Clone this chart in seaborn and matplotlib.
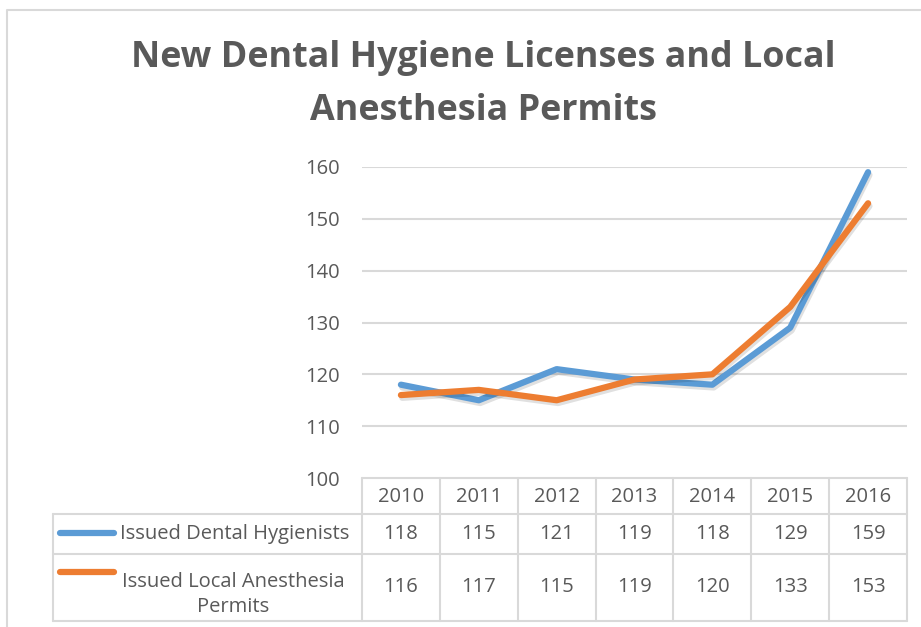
import pandas as pd
import seaborn as sns
import matplotlib.pyplot as plt
import matplotlib.patheffects as pe

# chart data
years = [2010, 2011, 2012, 2013, 2014, 2015, 2016]
hygienists = [118, 115, 121, 119, 118, 129, 159]
anesthesia = [116, 117, 115, 119, 120, 133, 153]
series_names = ['Issued Dental Hygienists', 'Issued Local Anesthesia\nPermits']
series_colors = ['#5B9BD5', '#ED7D31']
y_ticks = [100, 110, 120, 130, 140, 150, 160]

df = pd.DataFrame({
    'year': years * 2,
    'value': hygienists + anesthesia,
    'series': [series_names[0]] * len(years) + [series_names[1]] * len(years),
})

sns.set_style('white')
plt.rcParams['font.family'] = ['Open Sans', 'DejaVu Sans']
text_color = '#595959'
grid_color = '#D9D9D9'

W, H = 921, 627
fig = plt.figure(figsize=(W / 100, H / 100), dpi=100)

# plot area
left, right, top, bottom = 362, 907, 167, 478
ax = fig.add_axes([left / W, 1 - bottom / H, (right - left) / W, (bottom - top) / H])
sns.lineplot(data=df, x='year', y='value', hue='series', palette=series_colors,
             linewidth=4.5, legend=False, ax=ax, solid_capstyle='round',
             solid_joinstyle='round',
             path_effects=[pe.SimpleLineShadow(offset=(1, -2), alpha=0.12), pe.Normal()])
ax.set_xlim(years[0] - 0.5, years[-1] + 0.5)
ax.set_ylim(y_ticks[0], y_ticks[-1])
ax.set_yticks(y_ticks)
ax.set_xticks([])
ax.set_xlabel('')
ax.set_ylabel('')
for t in y_ticks[1:]:
    ax.axhline(t, color=grid_color, linewidth=1.5, zorder=0)
for s in ax.spines.values():
    s.set_visible(False)
ax.tick_params(axis='y', length=0, pad=16, labelsize=14.5, labelcolor=text_color)
ax.patch.set_alpha(0)

# title
title_x = 483 / W
fig.text(title_x, 1 - 58 / H, 'New Dental Hygiene Licenses and Local', ha='center', va='center',
         fontsize=25.8, fontweight='bold', color=text_color)
fig.text(title_x, 1 - 111 / H, 'Anesthesia Permits', ha='center', va='center',
         fontsize=25.8, fontweight='bold', color=text_color)

# overlay axes in pixel coordinates for the data table and the chart border
ov = fig.add_axes([0, 0, 1, 1], zorder=-1)
ov.set_xlim(0, W)
ov.set_ylim(H, 0)
ov.axis('off')

ov.plot([7, 7, W], [H, 10, 10], color=grid_color, linewidth=1.5)

col_w = (right - left) / len(years)
edges = [left + i * col_w for i in range(len(years) + 1)]
label_left = 53
row_lines = [478, 514, 554, 621]
lc = dict(color=grid_color, linewidth=1.5)
ov.plot([left, right], [row_lines[0]] * 2, **lc)
for y in row_lines[1:]:
    ov.plot([label_left, right], [y, y], **lc)
for x in edges:
    ov.plot([x, x], [row_lines[0], row_lines[-1]], **lc)
ov.plot([label_left, label_left], [row_lines[1], row_lines[-1]], **lc)

fs = 14.5
for i, yr in enumerate(years):
    cx = (edges[i] + edges[i + 1]) / 2
    ov.text(cx, 497, str(yr), ha='center', va='center', fontsize=fs, color=text_color)
    ov.text(cx, 534, str(hygienists[i]), ha='center', va='center', fontsize=fs, color=text_color)
    ov.text(cx, 587, str(anesthesia[i]), ha='center', va='center', fontsize=fs, color=text_color)

# legend keys and row labels
ov.plot([60, 114], [533, 533], color=series_colors[0], linewidth=4.5, solid_capstyle='round')
ov.plot([60, 114], [572, 572], color=series_colors[1], linewidth=4.5, solid_capstyle='round')
ov.text(235, 534, series_names[0], ha='center', va='center', fontsize=fs, color=text_color)
ov.text(233, 572, series_names[1], ha='center', va='top', fontsize=fs, color=text_color,
        linespacing=1.3)

fig.savefig('out.png', dpi=100, facecolor='white')
